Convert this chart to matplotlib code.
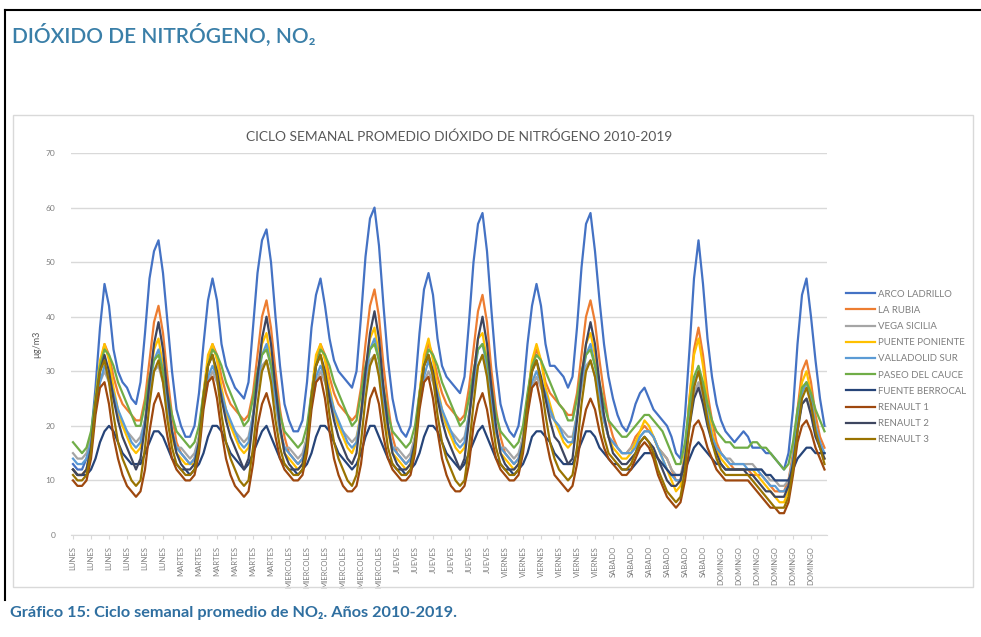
import numpy as np
import matplotlib
matplotlib.use('Agg')
import matplotlib.pyplot as plt
from matplotlib.lines import Line2D

plt.rcParams['font.family'] = ['Lato', 'DejaVu Sans']

# weekly cycle, hourly values (Mon 1h ... Sun 24h), ug/m3
arco_ladrillo = [
    13, 12, 12, 14, 18, 27, 38, 46, 42, 34, 30, 28, 27, 25, 24, 28, 37, 47, 52, 54, 48, 39, 30, 23,
    20, 18, 18, 20, 26, 35, 43, 47, 43, 35, 31, 29, 27, 26, 25, 28, 38, 48, 54, 56, 50, 40, 31, 24,
    21, 19, 19, 21, 28, 38, 44, 47, 42, 36, 32, 30, 29, 28, 27, 30, 40, 51, 58, 60, 53, 42, 32, 25,
    21, 19, 18, 20, 27, 37, 45, 48, 44, 36, 31, 29, 28, 27, 26, 29, 39, 50, 57, 59, 52, 41, 31, 24,
    21, 19, 18, 20, 26, 35, 42, 46, 42, 35, 31, 31, 30, 29, 27, 29, 38, 49, 57, 59, 52, 43, 35, 29,
    25, 22, 20, 19, 21, 24, 26, 27, 25, 23, 22, 21, 20, 18, 15, 14, 22, 34, 47, 54, 46, 36, 29, 24,
    21, 19, 18, 17, 18, 19, 18, 16, 16, 16, 15, 15, 14, 13, 12, 15, 23, 35, 44, 47, 40, 32, 25, 20]
la_rubia = [
    12, 11, 11, 12, 16, 24, 31, 35, 33, 29, 26, 24, 23, 22, 21, 21, 25, 32, 39, 42, 37, 29, 22, 17,
    15, 14, 13, 14, 18, 26, 32, 35, 33, 29, 26, 24, 23, 22, 21, 22, 26, 33, 40, 43, 38, 30, 23, 18,
    15, 14, 13, 14, 18, 26, 32, 35, 33, 29, 26, 24, 23, 22, 21, 22, 27, 35, 42, 45, 40, 31, 24, 18,
    15, 14, 13, 14, 18, 26, 32, 35, 33, 29, 26, 24, 23, 22, 21, 22, 27, 34, 41, 44, 39, 30, 23, 18,
    15, 14, 13, 14, 18, 25, 31, 34, 32, 28, 26, 25, 24, 23, 22, 22, 26, 33, 40, 43, 39, 32, 26, 21,
    18, 16, 15, 15, 16, 18, 19, 20, 19, 18, 16, 15, 14, 12, 10, 10, 15, 25, 34, 38, 33, 26, 21, 17,
    15, 14, 13, 12, 12, 12, 12, 11, 11, 11, 10, 9, 8, 8, 8, 10, 15, 23, 30, 32, 28, 22, 18, 16]
vega_sicilia = [
    15, 14, 14, 15, 18, 23, 28, 30, 28, 25, 22, 20, 19, 18, 17, 18, 21, 26, 30, 31, 28, 23, 19, 16,
    16, 15, 14, 15, 18, 24, 28, 30, 28, 25, 22, 20, 19, 18, 17, 18, 22, 27, 31, 32, 29, 24, 19, 16,
    16, 15, 14, 15, 18, 24, 28, 30, 28, 25, 22, 20, 19, 18, 17, 18, 22, 28, 32, 33, 30, 24, 19, 16,
    16, 15, 14, 15, 18, 24, 28, 30, 28, 25, 22, 20, 19, 18, 17, 18, 22, 27, 31, 33, 30, 24, 19, 16,
    16, 15, 14, 15, 18, 23, 27, 29, 27, 25, 22, 21, 20, 19, 18, 18, 22, 27, 31, 32, 29, 25, 21, 18,
    17, 16, 15, 15, 16, 17, 18, 19, 19, 18, 16, 15, 14, 12, 11, 11, 14, 21, 26, 28, 25, 21, 18, 16,
    15, 14, 14, 13, 13, 13, 13, 13, 12, 12, 11, 10, 10, 9, 9, 10, 14, 20, 24, 25, 23, 19, 16, 15]
puente_poniente = [
    12, 11, 11, 12, 16, 25, 32, 35, 32, 27, 23, 20, 18, 16, 15, 16, 21, 28, 34, 36, 31, 24, 18, 15,
    14, 13, 13, 13, 17, 26, 33, 35, 32, 27, 23, 20, 18, 16, 15, 16, 22, 29, 35, 37, 32, 25, 19, 15,
    14, 13, 12, 13, 17, 26, 33, 35, 32, 27, 23, 20, 18, 16, 15, 17, 23, 30, 36, 38, 33, 25, 19, 15,
    14, 13, 12, 13, 17, 26, 33, 36, 32, 27, 23, 20, 18, 16, 15, 16, 22, 29, 36, 37, 32, 25, 19, 15,
    14, 13, 12, 13, 17, 25, 32, 35, 32, 27, 24, 21, 19, 17, 16, 17, 22, 29, 35, 37, 33, 27, 21, 18,
    16, 15, 14, 14, 15, 17, 19, 21, 20, 18, 16, 14, 12, 10, 8, 9, 15, 25, 33, 36, 31, 24, 19, 16,
    14, 13, 12, 12, 12, 12, 12, 12, 11, 10, 9, 8, 7, 6, 6, 8, 14, 22, 28, 30, 26, 20, 16, 14]
valladolid_sur = [
    14, 13, 13, 14, 17, 23, 28, 31, 29, 26, 23, 21, 19, 17, 16, 17, 21, 27, 32, 34, 30, 24, 19, 16,
    15, 14, 13, 14, 17, 24, 29, 31, 29, 26, 23, 21, 19, 17, 16, 17, 22, 28, 33, 35, 31, 25, 19, 16,
    15, 14, 13, 14, 17, 24, 29, 31, 29, 26, 23, 21, 19, 17, 16, 17, 22, 29, 34, 36, 32, 25, 20, 16,
    15, 14, 13, 14, 17, 24, 29, 32, 29, 26, 23, 21, 19, 17, 16, 17, 22, 28, 34, 35, 31, 25, 19, 16,
    15, 14, 13, 14, 17, 23, 28, 30, 28, 26, 23, 21, 20, 18, 17, 17, 22, 28, 33, 35, 31, 26, 21, 18,
    17, 16, 15, 15, 15, 16, 18, 19, 19, 18, 16, 14, 12, 11, 10, 10, 14, 22, 28, 30, 27, 22, 18, 16,
    15, 14, 13, 13, 13, 13, 12, 12, 12, 11, 10, 9, 9, 8, 8, 9, 14, 21, 26, 28, 25, 20, 17, 15]
paseo_del_cauce = [
    17, 16, 15, 16, 19, 25, 31, 34, 33, 31, 28, 26, 24, 22, 20, 20, 24, 29, 32, 33, 30, 26, 22, 19,
    18, 17, 16, 17, 20, 26, 31, 34, 33, 31, 28, 26, 24, 22, 20, 21, 25, 30, 33, 34, 31, 27, 22, 19,
    18, 17, 16, 17, 20, 26, 31, 34, 33, 31, 28, 26, 24, 22, 20, 21, 26, 31, 34, 35, 32, 27, 22, 19,
    18, 17, 16, 17, 20, 26, 31, 34, 33, 31, 28, 26, 24, 22, 20, 21, 25, 30, 34, 35, 32, 27, 22, 19,
    18, 17, 16, 17, 20, 26, 31, 33, 32, 30, 28, 26, 24, 23, 21, 21, 25, 30, 33, 34, 31, 28, 24, 21,
    20, 19, 18, 18, 19, 20, 21, 22, 22, 21, 20, 19, 17, 15, 13, 13, 17, 24, 29, 31, 28, 24, 21, 19,
    18, 17, 17, 16, 16, 16, 16, 17, 17, 16, 16, 15, 14, 13, 12, 13, 17, 23, 27, 28, 26, 23, 21, 19]
fuente_berrocal = [
    12, 11, 11, 11, 12, 14, 17, 19, 20, 19, 17, 15, 14, 13, 13, 13, 15, 17, 19, 19, 18, 16, 14, 13,
    12, 12, 11, 12, 13, 15, 18, 20, 20, 19, 17, 15, 14, 13, 12, 13, 15, 17, 19, 20, 18, 16, 14, 13,
    12, 12, 11, 12, 13, 15, 18, 20, 20, 19, 17, 15, 14, 13, 12, 13, 15, 18, 20, 20, 18, 16, 14, 13,
    12, 12, 11, 12, 13, 15, 18, 20, 20, 19, 17, 15, 14, 13, 12, 13, 15, 17, 19, 20, 18, 16, 14, 13,
    12, 12, 11, 12, 13, 15, 18, 19, 19, 18, 17, 15, 14, 13, 13, 13, 15, 17, 19, 19, 18, 16, 15, 14,
    13, 13, 12, 12, 12, 13, 14, 15, 15, 15, 14, 13, 12, 11, 11, 11, 12, 14, 16, 17, 16, 15, 14, 13,
    13, 12, 12, 12, 12, 12, 12, 12, 12, 12, 11, 11, 10, 10, 10, 10, 12, 14, 15, 16, 16, 15, 15, 15]
renault_1 = [
    10, 9, 9, 10, 14, 22, 27, 28, 24, 18, 14, 11, 9, 8, 7, 8, 12, 19, 24, 26, 23, 18, 14, 12,
    11, 10, 10, 11, 15, 23, 28, 29, 25, 19, 14, 11, 9, 8, 7, 8, 13, 20, 24, 26, 23, 18, 14, 12,
    11, 10, 10, 11, 15, 23, 28, 29, 25, 19, 14, 11, 9, 8, 8, 9, 13, 20, 25, 27, 24, 18, 14, 12,
    11, 10, 10, 11, 15, 23, 28, 29, 25, 19, 14, 11, 9, 8, 8, 9, 13, 20, 24, 26, 23, 18, 14, 12,
    11, 10, 10, 11, 15, 22, 27, 28, 24, 18, 14, 11, 10, 9, 8, 9, 13, 19, 23, 25, 23, 19, 16, 14,
    13, 12, 11, 11, 12, 14, 16, 17, 16, 14, 11, 9, 7, 6, 5, 6, 10, 16, 20, 21, 19, 16, 14, 12,
    11, 10, 10, 10, 10, 10, 10, 9, 8, 7, 6, 5, 5, 4, 4, 6, 11, 17, 20, 21, 19, 16, 14, 12]
renault_2 = [
    12, 11, 11, 12, 16, 24, 30, 33, 30, 25, 21, 18, 16, 14, 12, 14, 20, 28, 35, 39, 34, 26, 19, 15,
    13, 12, 12, 13, 17, 25, 31, 33, 30, 25, 21, 18, 16, 14, 12, 14, 21, 29, 36, 40, 35, 27, 20, 15,
    13, 12, 12, 13, 17, 25, 31, 33, 30, 25, 21, 18, 16, 14, 13, 15, 22, 30, 37, 41, 36, 27, 20, 15,
    13, 12, 12, 13, 17, 25, 31, 33, 30, 25, 21, 18, 16, 14, 12, 14, 21, 29, 36, 40, 35, 27, 20, 15,
    13, 12, 12, 13, 17, 24, 30, 32, 29, 25, 21, 18, 17, 15, 13, 14, 21, 29, 35, 39, 35, 28, 22, 18,
    15, 14, 13, 13, 14, 15, 17, 18, 17, 16, 14, 12, 10, 9, 9, 10, 14, 20, 25, 27, 24, 20, 17, 15,
    13, 12, 12, 12, 12, 12, 11, 11, 10, 9, 8, 8, 7, 7, 7, 9, 13, 19, 24, 25, 22, 18, 16, 14]
renault_3 = [
    11, 10, 10, 11, 15, 24, 30, 32, 28, 22, 17, 14, 12, 10, 9, 10, 16, 24, 30, 32, 28, 21, 16, 13,
    12, 11, 11, 12, 16, 25, 31, 33, 29, 22, 17, 14, 12, 10, 9, 10, 16, 24, 30, 32, 28, 21, 16, 13,
    12, 11, 11, 12, 16, 25, 31, 33, 29, 22, 17, 14, 12, 10, 9, 11, 17, 25, 31, 33, 29, 22, 16, 13,
    12, 11, 11, 12, 16, 25, 31, 33, 29, 22, 17, 14, 12, 10, 9, 10, 16, 24, 31, 33, 29, 22, 16, 13,
    12, 11, 11, 12, 16, 24, 30, 32, 28, 22, 17, 14, 12, 11, 10, 11, 16, 24, 30, 32, 29, 23, 18, 15,
    14, 13, 12, 12, 13, 15, 17, 18, 17, 15, 12, 10, 8, 7, 6, 7, 12, 20, 27, 30, 26, 21, 17, 14,
    12, 11, 11, 11, 11, 11, 11, 10, 9, 8, 7, 6, 5, 5, 5, 7, 12, 19, 25, 27, 24, 19, 16, 13]

stations = ['ARCO LADRILLO', 'LA RUBIA', 'VEGA SICILIA', 'PUENTE PONIENTE', 'VALLADOLID SUR',
            'PASEO DEL CAUCE', 'FUENTE BERROCAL', 'RENAULT 1', 'RENAULT 2', 'RENAULT 3']
series = [arco_ladrillo, la_rubia, vega_sicilia, puente_poniente, valladolid_sur,
          paseo_del_cauce, fuente_berrocal, renault_1, renault_2, renault_3]
colors = ['#4472C4', '#ED7D31', '#A5A5A5', '#FFC000', '#5B9BD5',
          '#70AD47', '#264478', '#9E480E', '#3E4660', '#997300']
days = ['LUNES', 'MARTES', 'MIERCOLES', 'JUEVES', 'VIERNES', 'SABADO', 'DOMINGO']
labels_per_day = 6

W, H = 981, 637
fig = plt.figure(figsize=(W / 100, H / 100), dpi=100)
fig.patch.set_facecolor('white')

def fx(px):
    return px / W

def fy(py):
    return 1 - py / H

# document frame and chart box
fig.add_artist(Line2D([fx(5), fx(5)], [fy(10), fy(600)], color='black', lw=1.5))
fig.add_artist(Line2D([fx(5), 1.0], [fy(10), fy(10)], color='black', lw=1.5))
fig.add_artist(plt.Rectangle((fx(13), fy(587)), fx(973) - fx(13), fy(115) - fy(587),
                             fill=False, ec='#D9D9D9', lw=1.0))

fig.text(fx(12), fy(35), 'DIÓXIDO DE NITRÓGENO, NO₂', fontsize=15, color='#3A7FA8',
         va='center', ha='left', fontweight='semibold')
fig.text(fx(10), fy(613), 'Gráfico 15: Ciclo semanal promedio de NO₂. Años 2010-2019.',
         fontsize=11.7, color='#2F6FA0', va='center', ha='left', fontweight='bold')
fig.text(fx(459), fy(137), 'CICLO SEMANAL PROMEDIO DIÓXIDO DE NITRÓGENO 2010-2019',
         fontsize=9.9, color='#595959', ha='center', va='center')

n = len(arco_ladrillo)
x = np.arange(n)
ax = fig.add_axes([fx(70.75), fy(535), fx(826.75) - fx(70.75), fy(153) - fy(535)])
for vals, name, c in zip(series, stations, colors):
    ax.plot(x, vals, color=c, lw=1.6, label=name, solid_joinstyle='round')

ax.set_xlim(-0.5, n - 0.5)
ax.set_ylim(0, 70)
ax.set_yticks(range(0, 71, 10))
ax.grid(axis='y', color='#D9D9D9', lw=1.0)
ax.set_axisbelow(True)
for s in ['top', 'right', 'left']:
    ax.spines[s].set_visible(False)
ax.spines['bottom'].set_color('#D9D9D9')
ax.tick_params(axis='y', length=0, labelsize=6, labelcolor='#7F7F7F', pad=11)
step = n // (len(days) * labels_per_day)
ticks = np.arange(0, n, step)
ax.set_xticks(ticks)
ax.set_xticklabels([days[t // 24] for t in ticks], rotation=90, fontsize=5.5, color='#7F7F7F')
ax.tick_params(axis='x', length=3, color='#D9D9D9', pad=5)
ax.set_ylabel('µg/m3', fontsize=6.5, color='#595959', labelpad=3)

leg = fig.legend(loc='center left', bbox_to_anchor=(fx(846), fy(367)), frameon=False,
                 fontsize=6.9, handlelength=3.0, handletextpad=0.35, labelspacing=0.75,
                 borderpad=0, borderaxespad=0)
for t in leg.get_texts():
    t.set_color('#7F7F7F')

fig.savefig('out.png', dpi=100, facecolor='white')
